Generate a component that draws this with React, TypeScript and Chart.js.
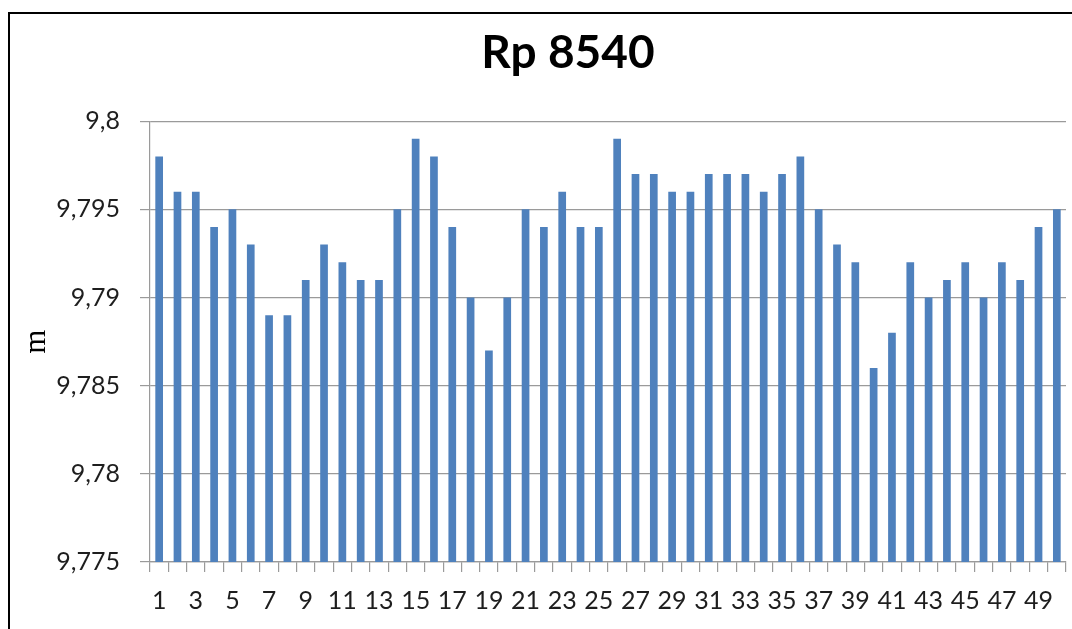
import React, { useEffect, useRef } from "react";
import { Chart, registerables } from "chart.js";

Chart.register(...registerables);

const TITLE = "Rp 8540";
const Y_TITLE = "m";

const categories: string[] = [
  "1", "2", "3", "4", "5", "6", "7", "8", "9", "10",
  "11", "12", "13", "14", "15", "16", "17", "18", "19", "20",
  "21", "22", "23", "24", "25", "26", "27", "28", "29", "30",
  "31", "32", "33", "34", "35", "36", "37", "38", "39", "40",
  "41", "42", "43", "44", "45", "46", "47", "48", "49", "50",
];

const values: number[] = [
  9.798, 9.796, 9.796, 9.794, 9.795, 9.793, 9.789, 9.789, 9.791, 9.793,
  9.792, 9.791, 9.791, 9.795, 9.799, 9.798, 9.794, 9.790, 9.787, 9.790,
  9.795, 9.794, 9.796, 9.794, 9.794, 9.799, 9.797, 9.797, 9.796, 9.796,
  9.797, 9.797, 9.797, 9.796, 9.797, 9.798, 9.795, 9.793, 9.792, 9.786,
  9.788, 9.792, 9.790, 9.791, 9.792, 9.790, 9.792, 9.791, 9.794, 9.795,
];

const Y_MIN = 9.775;
const Y_MAX = 9.8;
const Y_STEP = 0.005;

const BAR_COLOR = "#4f81bd";
const GRID_COLOR = "#9a9a9a";
const TEXT_COLOR = "#1e1e1e";

export default function App() {
  const canvasRef = useRef<HTMLCanvasElement | null>(null);

  useEffect(() => {
    const canvas = canvasRef.current;
    if (!canvas) return;
    const chart = new Chart(canvas, {
      type: "bar",
      data: {
        labels: categories,
        datasets: [
          {
            data: values,
            backgroundColor: BAR_COLOR,
            borderWidth: 0,
            barPercentage: 0.42,
            categoryPercentage: 1,
            yAxisID: "y",
          },
        ],
      },
      options: {
        responsive: false,
        animation: false,
        devicePixelRatio: 1,
        layout: { padding: 0 },
        plugins: {
          legend: { display: false },
          tooltip: { enabled: false },
          title: {
            display: true,
            text: TITLE,
            color: "#000",
            font: { family: "Lato", size: 46, weight: "bold" },
            padding: { top: 12, bottom: 40 },
          },
        },
        scales: {
          x: {
            type: "category",
            offset: true,
            grid: {
              display: true,
              offset: true,
              drawOnChartArea: false,
              drawTicks: true,
              tickLength: 10,
              color: GRID_COLOR,
              lineWidth: 1.2,
            },
            border: { display: true, color: GRID_COLOR, width: 1.2 },
            ticks: {
              autoSkip: false,
              maxRotation: 0,
              minRotation: 0,
              padding: 14,
              color: TEXT_COLOR,
              font: { family: "Lato", size: 25 },
              callback: (_v: any, idx: number) => (idx % 2 === 0 ? categories[idx] : ""),
            },
            afterFit: (scale: any) => {
              scale.height = 67;
            },
          },
          y: {
            position: "left",
            min: Y_MIN,
            max: Y_MAX,
            grid: {
              color: GRID_COLOR,
              lineWidth: 1.2,
              drawTicks: true,
              tickLength: 10,
            },
            border: { display: true, color: GRID_COLOR, width: 1.2 },
            ticks: {
              stepSize: Y_STEP,
              padding: 20,
              color: TEXT_COLOR,
              font: { family: "Lato", size: 25 },
              callback: (v: any) => String(Number(Number(v).toFixed(3))).replace(".", ","),
            },
            title: {
              display: true,
              text: Y_TITLE,
              color: "#000",
              font: { family: "Liberation Serif", size: 31 },
              padding: { top: 8, bottom: 0 },
            },
            afterFit: (scale: any) => {
              scale.width = 140;
            },
          },
          yRightSpace: {
            position: "right",
            display: true,
            grid: { display: false, drawTicks: false, drawOnChartArea: false },
            border: { display: false },
            ticks: { display: false },
            afterFit: (scale: any) => {
              scale.width = 60;
            },
          },
        },
      },
    });
    return () => chart.destroy();
  }, []);

  return (
    <div
      style={{
        position: "fixed",
        left: 0,
        top: 0,
        width: 1072,
        height: 629,
        overflow: "hidden",
        background: "#fff",
      }}
    >
      <canvas
        ref={canvasRef}
        width={1116}
        height={615}
        style={{ position: "absolute", left: 10, top: 14, width: 1116, height: 615 }}
      />
      <div
        style={{
          position: "absolute",
          left: 8,
          top: 12,
          width: 1200,
          height: 700,
          border: "2px solid #000",
          boxSizing: "border-box",
          pointerEvents: "none",
        }}
      />
    </div>
  );
}
